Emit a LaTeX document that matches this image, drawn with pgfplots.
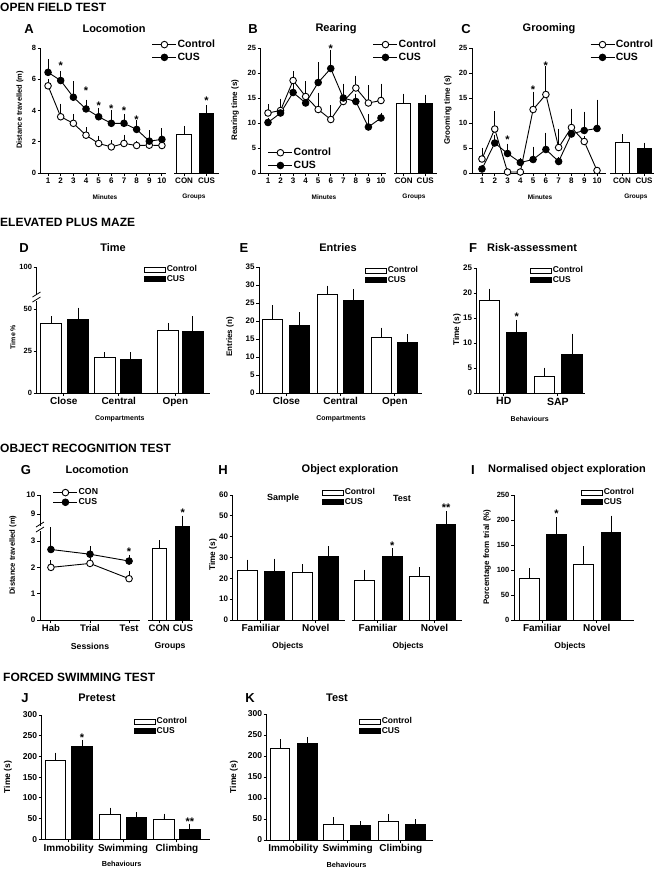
\documentclass[border=0pt]{standalone}
\usepackage{fontspec}
\setmainfont{Liberation Sans}
\usepackage{pgfplots}
\pgfplotsset{compat=1.18}
\newcommand\fs[1]{\fontsize{#1}{#1}\selectfont\bfseries}
\pgfplotsset{
 base/.style={scale only axis, anchor=south west, clip=false, enlargelimits=false, scaled ticks=false,
   axis line style={-, line width=0.9pt, black}, tick style={black, line width=0.9pt},
   every outer x axis line/.append style={-}, every outer y axis line/.append style={-},
   every inner x axis line/.append style={-}, every inner y axis line/.append style={-},
   tick align=outside, major tick length=3pt,
   /pgf/number format/assume math mode=true,
   yticklabel style={font=\fs{7.5}, inner sep=1.5pt},
   xticklabel style={font=\fs{8}, inner sep=1.5pt},
   xlabel style={font=\fs{7}, anchor=center},
   ylabel style={font=\fs{8}, anchor=center},
   legend style={draw=none, fill=none, inner sep=0pt, outer sep=0pt, anchor=north west, row sep=0.5pt, font=\fs{8.5}, nodes={inner sep=0.8pt}},
   legend cell align=left},
 lineleg/.style={legend image code/.code={\draw[mark repeat=2,mark phase=2,##1] plot coordinates {(0pt,0pt) (12pt,0pt) (24pt,0pt)};}},
 barleg/.style={legend image code/.code={\draw[##1] (0pt,-2.6pt) rectangle (21pt,2.6pt);}},
 lineax/.style={axis x line=bottom, axis y line=left, base, lineleg},
 barax/.style={axis x line=bottom, axis y line=left, base, barleg, xmin=0.5},
 insetax/.style={axis x line=bottom, axis y line=none, base},
 bigleg/.style={legend style={font=\fs{10.5}, row sep=2.2pt}},
 errs/.style={/pgfplots/error bars/y dir=plus, /pgfplots/error bars/y explicit, /pgfplots/error bars/error bar style={line width=0.9pt, black, solid}, /pgfplots/error bars/error mark options={line width=0.9pt, black, mark size=3pt}},
 ctrl/.style={black, line width=0.9pt, mark=*, mark size=3.3pt, mark options={fill=white, solid}, errs},
 cus/.style={black, line width=0.9pt, mark=*, mark size=3.3pt, mark options={fill=black, solid}, errs},
 cbar/.style={ybar, bar shift=0pt, fill=white, draw=black, line width=1pt, forget plot, errs},
 kbar/.style={ybar, bar shift=0pt, fill=black, draw=black, line width=1pt, forget plot, errs},
}
\tikzset{star/.style={font=\fs{11}, inner sep=0pt, yshift=-2.3pt},
 hdr/.style={font=\fs{12}, anchor=west, inner sep=0pt},
 plet/.style={font=\fs{13}, inner sep=0pt},
 ptit/.style={font=\fs{11}, inner sep=0pt}}
\begin{document}
\begin{tikzpicture}
\path[use as bounding box] (0pt,0pt) rectangle (654pt,-870pt);
% ---------- headers and titles
\node[hdr] at (0pt,-7pt) {OPEN FIELD TEST};
\node[hdr] at (0pt,-222pt) {ELEVATED PLUS MAZE};
\node[hdr] at (0pt,-448pt) {OBJECT RECOGNITION TEST};
\node[hdr] at (3pt,-677pt) {FORCED SWIMMING TEST};
\node[plet] at (29pt,-29pt) {A}; \node[ptit] at (114pt,-29pt) {Locomotion};
\node[plet] at (253pt,-29pt) {B}; \node[ptit] at (336pt,-29pt) {Rearing};
\node[plet] at (466pt,-29pt) {C}; \node[ptit] at (549pt,-29pt) {Grooming};
\node[plet] at (24pt,-248pt) {D}; \node[ptit] at (113pt,-248pt) {Time};
\node[plet] at (244pt,-248pt) {E}; \node[ptit] at (338pt,-248pt) {Entries};
\node[plet] at (473pt,-248pt) {F}; \node[ptit] at (532pt,-248pt) {Risk-assessment};
\node[plet] at (26pt,-470pt) {G}; \node[ptit] at (97pt,-470pt) {Locomotion};
\node[plet] at (223pt,-470pt) {H}; \node[ptit] at (350pt,-470pt) {Object exploration};
\node[plet] at (473pt,-470pt) {I}; \node[ptit] at (567pt,-470pt) {Normalised object exploration};
\node[plet] at (25pt,-698pt) {J}; \node[ptit] at (97pt,-698pt) {Pretest};
\node[plet] at (250pt,-698pt) {K}; \node[ptit] at (337pt,-698pt) {Test};

% ---------- A
\begin{axis}[lineax, bigleg, at={(40.7pt,-173pt)}, width=125.3pt, height=125pt,
 xmin=0.42, xmax=10.32, ymin=0, ymax=8, xtick={1,...,10}, ytick={0,2,4,6,8},
 xlabel={Minutes}, ylabel={Distance travelled (m)},
 xlabel style={font=\fs{6.5}, at={(axis description cs:0.513,-0.192)}},
 ylabel style={font=\fs{7.5}, at={(axis description cs:-0.165,0.504)}},
 legend style={at={(axis description cs:0.888,1.07)}}]
\addplot[ctrl] coordinates {(1,5.58) +- (0,0.25) (2,3.60) +- (0,0.65) (3,3.18) +- (0,0.42) (4,2.42) +- (0,0.33) (5,1.89) +- (0,0.31) (6,1.67) +- (0,0.23) (7,1.89) +- (0,0.38) (8,1.76) +- (0,0.10) (9,1.78) +- (0,0.22) (10,1.76) +- (0,0.10)};
\addlegendentry{Control}
\addplot[cus] coordinates {(1,6.44) +- (0,0.66) (2,5.92) +- (0,0.43) (3,4.85) +- (0,0.84) (4,4.10) +- (0,0.40) (5,3.60) +- (0,0.37) (6,3.18) +- (0,0.64) (7,3.18) +- (0,0.42) (8,2.79) +- (0,0.43) (9,2.04) +- (0,0.49) (10,2.15) +- (0,0.53)};
\addlegendentry{CUS}
\node[star] at (axis cs:2,7.04) {*};
\node[star] at (axis cs:4,5.43) {*};
\node[star] at (axis cs:5,4.46) {*};
\node[star] at (axis cs:6,4.29) {*};
\node[star] at (axis cs:7,4.14) {*};
\node[star] at (axis cs:8,3.56) {*};
\end{axis}
\begin{axis}[insetax, at={(174pt,-173pt)}, width=45pt, height=125pt, xmin=0.55, xmax=2.55, ymin=0, ymax=8,
 xtick={1,2}, xticklabels={CON,CUS}, xlabel={Groups},
 xlabel style={font=\fs{6.5}, at={(axis description cs:0.444,-0.192)}}]
\addplot[cbar, bar width=0.64] coordinates {(1,2.49) +- (0,0.34)};
\addplot[kbar, bar width=0.64] coordinates {(2,3.78) +- (0,0.36)};
\node[star] at (axis cs:2,4.79) {*};
\end{axis}

% ---------- B
\begin{axis}[lineax, bigleg, at={(260.7pt,-173pt)}, width=125.3pt, height=125pt,
 xmin=0.42, xmax=10.4, ymin=0, ymax=25, xtick={1,...,10}, ytick={0,5,...,25},
 xlabel={Minutes}, ylabel={Rearing time (s)},
 xlabel style={font=\fs{6.5}, at={(axis description cs:0.505,-0.192)}},
 ylabel style={at={(axis description cs:-0.205,0.504)}},
 legend style={at={(axis description cs:0.058,0.205)}}]
\addplot[ctrl] coordinates {(1,12.0) +- (0,1.2) (2,12.5) +- (0,1.8) (3,18.5) +- (0,1.3) (4,15.3) +- (0,2.5) (5,12.7) +- (0,2.8) (6,10.7) +- (0,2.3) (7,14.3) +- (0,3.0) (8,17.0) +- (0,1.9) (9,14.0) +- (0,3.0) (10,14.5) +- (0,2.8)};
\addlegendentry{Control}
\addplot[cus] coordinates {(1,10.1) +- (0,0.4) (2,12.0) +- (0,1.3) (3,16.1) +- (0,1.6) (4,14.0) +- (0,1.8) (5,18.1) +- (0,3.5) (6,20.9) +- (0,3.1) (7,15.0) +- (0,1.7) (8,14.3) +- (0,1.0) (9,9.2) +- (0,2.0) (10,11.0) +- (0,0.5)};
\addlegendentry{CUS}
\node[star] at (axis cs:6,25.3) {*};
\end{axis}
\begin{axis}[insetax, lineleg, bigleg, at={(394pt,-173pt)}, width=43pt, height=125pt, xmin=0.55, xmax=2.55, ymin=0, ymax=25,
 xtick={1,2}, xticklabels={CON,CUS}, xlabel={Groups},
 xlabel style={font=\fs{6.5}, at={(axis description cs:0.465,-0.192)}},
 legend style={at={(axis description cs:-0.488,1.07)}}]
\addlegendimage{black, line width=0.9pt, mark=*, mark size=3.3pt, mark options={fill=white, solid}}
\addlegendentry{Control}
\addlegendimage{black, line width=0.9pt, mark=*, mark size=3.3pt, mark options={fill=black, solid}}
\addlegendentry{CUS}
\addplot[cbar, bar width=0.64] coordinates {(1,14.0) +- (0,1.3)};
\addplot[kbar, bar width=0.64] coordinates {(2,14.0) +- (0,1.1)};
\end{axis}

% ---------- C
\begin{axis}[lineax, bigleg, at={(472pt,-173pt)}, width=133.7pt, height=125pt,
 xmin=0.22, xmax=10.68, ymin=0, ymax=25, xtick={1,...,10}, ytick={0,5,...,25},
 xlabel={Minutes}, ylabel={Grooming time (s)},
 xlabel style={font=\fs{6.5}, at={(axis description cs:0.509,-0.192)}},
 ylabel style={at={(axis description cs:-0.18,0.504)}},
 legend style={at={(axis description cs:0.883,1.07)}}]
\addplot[ctrl] coordinates {(1,2.8) +- (0,1.7) (2,8.8) +- (0,3.0) (3,0.2) +- (0,0) (4,0.2) +- (0,0) (5,12.7) +- (0,3.0) (6,15.7) +- (0,5.1) (7,5.1) +- (0,3.2) (8,9.1) +- (0,3.2) (9,6.3) +- (0,0.5) (10,0.5) +- (0,0)};
\addlegendentry{Control}
\addplot[cus] coordinates {(1,0.8) +- (0,0.3) (2,6.0) +- (0,1.0) (3,3.9) +- (0,1.4) (4,2.1) +- (0,0.3) (5,2.7) +- (0,2.0) (6,4.7) +- (0,2.8) (7,2.3) +- (0,0.3) (8,7.8) +- (0,2.7) (9,8.5) +- (0,3.2) (10,8.9) +- (0,5.2)};
\addlegendentry{CUS}
\node[star] at (axis cs:3,7.1) {*};
\node[star] at (axis cs:5,17.2) {*};
\node[star] at (axis cs:6,22.0) {*};
\end{axis}
\begin{axis}[insetax, at={(610pt,-173pt)}, width=44pt, height=125pt, xmin=0.45, xmax=2.45, ymin=0, ymax=25,
 xtick={1,2}, xticklabels={CON,CUS}, xlabel={Groups},
 xlabel style={font=\fs{6.5}, at={(axis description cs:0.59,-0.192)}}]
\addplot[cbar, bar width=0.64] coordinates {(1,6.1) +- (0,1.1)};
\addplot[kbar, bar width=0.64] coordinates {(2,4.9) +- (0,0.6)};
\end{axis}

% ---------- D
\begin{axis}[barax, at={(36.7pt,-393pt)}, width=173.3pt, height=126pt, xmax=3.5, ymin=0, ymax=75,
 ytick={0,25,50,75}, yticklabels={0,25,50,100},
 xtick={0.97,1.92,2.9}, xticklabels={Close,Central,Open}, xticklabel style={font=\fs{10}},
 xlabel={Compartments}, ylabel={Time \%},
 xlabel style={at={(axis description cs:0.48,-0.206)}},
 ylabel style={font=\fs{7}, at={(axis description cs:-0.137,0.444)}},
 legend style={at={(axis description cs:0.619,1.016)}}]
\addlegendimage{fill=white, draw=black, line width=1pt}\addlegendentry{Control}
\addlegendimage{fill=black, draw=black, line width=1pt}\addlegendentry{CUS}
\addplot[cbar, bar width=0.363] coordinates {(0.75,41.5) +- (0,2.5) (1.68,21.2) +- (0,1.2) (2.78,37.1) +- (0,2.8)};
\addplot[kbar, bar width=0.363] coordinates {(1.22,43.5) +- (0,5.5) (2.13,20.2) +- (0,2.2) (3.2,36.5) +- (0,7.3)};
\end{axis}
\fill[white] (33pt,-295pt) rectangle (40.5pt,-300.5pt);
\draw[line width=0.8pt] (32.5pt,-297pt) -- (40.5pt,-292pt);
\draw[line width=0.8pt] (32.5pt,-302pt) -- (40.5pt,-297pt);

% ---------- E
\begin{axis}[barax, at={(259.3pt,-393pt)}, width=162.7pt, height=126pt, xmax=3.5, ymin=0, ymax=35,
 ytick={0,5,...,35}, yticklabel style={font=\fs{8}},
 xtick={1,2,3}, xticklabels={Close,Central,Open}, xticklabel style={font=\fs{10}},
 xlabel={Compartments}, ylabel={Entries (n)},
 xlabel style={at={(axis description cs:0.502,-0.206)}},
 ylabel style={at={(axis description cs:-0.18,0.444)}},
 legend style={at={(axis description cs:0.65,1.008)}}]
\addlegendimage{fill=white, draw=black, line width=1pt}\addlegendentry{Control}
\addlegendimage{fill=black, draw=black, line width=1pt}\addlegendentry{CUS}
\addplot[cbar, bar width=0.37] coordinates {(0.75,20.3) +- (0,3.2) (1.75,27.5) +- (0,1.5) (2.75,15.5) +- (0,1.8)};
\addplot[kbar, bar width=0.37] coordinates {(1.24,18.8) +- (0,2.8) (2.24,25.7) +- (0,2.3) (3.24,14.0) +- (0,1.5)};
\end{axis}

% ---------- F
\begin{axis}[barax, at={(476.7pt,-393pt)}, width=108.3pt, height=125pt, xmax=2.5, ymin=0, ymax=25,
 ytick={0,5,...,25}, yticklabel style={font=\fs{8}},
 xtick={1,2}, xticklabels={HD,SAP}, xticklabel style={font=\fs{10.5}},
 xlabel={Behaviours}, ylabel={Time (s)},
 xlabel style={at={(axis description cs:0.49,-0.208)}},
 ylabel style={font=\fs{8.3}, at={(axis description cs:-0.182,0.504)}},
 legend style={at={(axis description cs:0.492,1.016)}}]
\addlegendimage{fill=white, draw=black, line width=1pt}\addlegendentry{Control}
\addlegendimage{fill=black, draw=black, line width=1pt}\addlegendentry{CUS}
\addplot[cbar, bar width=0.37] coordinates {(0.74,18.5) +- (0,1.8) (1.75,3.3) +- (0,1.2)};
\addplot[kbar, bar width=0.37] coordinates {(1.24,12.1) +- (0,2.0) (2.26,7.8) +- (0,3.5)};
\node[star] at (axis cs:1.24,15.8) {*};
\end{axis}

% ---------- G
\begin{axis}[lineax, at={(40pt,-620pt)}, width=100pt, height=125pt,
 xmin=0.72, xmax=3.28, ymin=0, ymax=4.75,
 ytick={0,1,2,3,4.03,4.75}, yticklabels={0,1,2,3,9,10}, yticklabel style={font=\fs{8}},
 xtick={1,2,3}, xticklabels={Hab,Trial,Test}, xticklabel style={font=\fs{9.5}},
 xlabel={Sessions}, ylabel={Distance travelled (m)},
 xlabel style={font=\fs{8.7}, at={(axis description cs:0.5,-0.208)}},
 ylabel style={font=\fs{7.6}, at={(axis description cs:-0.27,0.52)}},
 legend style={at={(axis description cs:0.13,1.056)}, font=\fs{8.7}}]
\addplot[ctrl] coordinates {(1,2.0) +- (0,0.15) (2,2.15) +- (0,0.09) (3,1.57) +- (0,0.16)};
\addlegendentry{CON}
\addplot[cus] coordinates {(1,2.68) +- (0,0.74) (2,2.50) +- (0,0.18) (3,2.24) +- (0,0.10)};
\addlegendentry{CUS}
\node[star] at (axis cs:3,2.68) {*};
\end{axis}
\fill[white] (36.5pt,-525.5pt) rectangle (43.5pt,-531pt);
\draw[line width=0.8pt] (36pt,-527pt) -- (44pt,-522pt);
\draw[line width=0.8pt] (36pt,-532pt) -- (44pt,-527pt);
\begin{axis}[insetax, at={(148pt,-620pt)}, width=45pt, height=125pt, xmin=0.5, xmax=2.5, ymin=0, ymax=4.75,
 xtick={1,2.05}, xticklabels={CON,CUS}, xticklabel style={font=\fs{9.5}}, xlabel={Groups},
 xlabel style={font=\fs{8.7}, at={(axis description cs:0.49,-0.208)}}]
\addplot[cbar, bar width=0.62] coordinates {(1,2.72) +- (0,0.19)};
\addplot[kbar, bar width=0.62] coordinates {(2.05,3.54) +- (0,0.31)};
\node[star] at (axis cs:2.05,4.15) {*};
\end{axis}

% ---------- H
\begin{axis}[barax, at={(232.7pt,-620pt)}, width=112.3pt, height=125pt, xmax=2.5, ymin=0, ymax=60,
 ytick={0,10,...,60}, yticklabel style={font=\fs{8}},
 xtick={1,1.98}, xticklabels={Familiar,Novel}, xticklabel style={font=\fs{10}},
 xlabel={Objects}, ylabel={Time (s)},
 xlabel style={font=\fs{8.5}, at={(axis description cs:0.49,-0.208)}},
 ylabel style={font=\fs{8.3}, at={(axis description cs:-0.175,0.52)}},
 legend style={at={(axis description cs:0.795,1.056)}}]
\addlegendimage{fill=white, draw=black, line width=1pt}\addlegendentry{Control}
\addlegendimage{fill=black, draw=black, line width=1pt}\addlegendentry{CUS}
\addplot[cbar, bar width=0.357] coordinates {(0.77,24.0) +- (0,3.5) (1.74,23.0) +- (0,2.3)};
\addplot[kbar, bar width=0.357] coordinates {(1.25,23.2) +- (0,4.8) (2.21,30.4) +- (0,3.5)};
\node[font=\fs{9}] at (axis cs:1.4,58.5) {Sample};
\end{axis}
\begin{axis}[insetax, at={(352pt,-620pt)}, width=110pt, height=125pt, xmin=0.5, xmax=2.5, ymin=0, ymax=60,
 xtick={0.97,2.0}, xticklabels={Familiar,Novel}, xticklabel style={font=\fs{10}},
 xlabel={Objects},
 xlabel style={font=\fs{8.5}, at={(axis description cs:0.51,-0.208)}}]
\addplot[cbar, bar width=0.36] coordinates {(0.72,19.2) +- (0,3.4) (1.72,20.8) +- (0,3.0)};
\addplot[kbar, bar width=0.36] coordinates {(1.23,30.4) +- (0,2.7) (2.21,45.9) +- (0,4.8)};
\node[star] at (axis cs:1.23,36.8) {*};
\node[star] at (axis cs:2.21,55.2) {**};
\node[font=\fs{9}] at (axis cs:1.41,58.5) {Test};
\end{axis}

% ---------- I
\begin{axis}[barax, at={(514pt,-620pt)}, width=120pt, height=125pt, xmax=2.5, ymin=0, ymax=250,
 ytick={0,50,...,250},
 xtick={0.97,1.88}, xticklabels={Familiar,Novel}, xticklabel style={font=\fs{10}},
 xlabel={Objects}, ylabel={Porcentage from trial (\%)},
 xlabel style={font=\fs{8.5}, at={(axis description cs:0.467,-0.208)}},
 ylabel style={font=\fs{8}, at={(axis description cs:-0.225,0.504)}},
 legend style={at={(axis description cs:0.558,1.056)}}]
\addlegendimage{fill=white, draw=black, line width=1pt}\addlegendentry{Control}
\addlegendimage{fill=black, draw=black, line width=1pt}\addlegendentry{CUS}
\addplot[cbar, bar width=0.325] coordinates {(0.76,82.7) +- (0,14.6) (1.66,112) +- (0,30)};
\addplot[kbar, bar width=0.325] coordinates {(1.21,170.7) +- (0,28.6) (2.12,176) +- (0,27)};
\node[star] at (axis cs:1.21,216.6) {*};
\end{axis}

% ---------- J
\begin{axis}[barax, at={(41.7pt,-839.3pt)}, width=168.3pt, height=124.3pt, xmax=3.5, ymin=0, ymax=300,
 ytick={0,50,...,300}, yticklabel style={font=\fs{8.5}},
 xtick={0.98,1.95,2.91}, xticklabels={Immobility,Swimming,Climbing}, xticklabel style={font=\fs{10}},
 xlabel={Behaviours}, ylabel={Time (s)},
 xlabel style={font=\fs{7.3}, at={(axis description cs:0.475,-0.2)}},
 ylabel style={font=\fs{8.5}, at={(axis description cs:-0.2,0.5)}},
 legend style={at={(axis description cs:0.548,0.984)}}]
\addlegendimage{fill=white, draw=black, line width=1pt}\addlegendentry{Control}
\addlegendimage{fill=black, draw=black, line width=1pt}\addlegendentry{CUS}
\addplot[cbar, bar width=0.365] coordinates {(0.75,190.6) +- (0,11.4) (1.72,61) +- (0,8) (2.68,48) +- (0,7)};
\addplot[kbar, bar width=0.365] coordinates {(1.22,223.6) +- (0,9.4) (2.19,52) +- (0,6) (3.14,24) +- (0,6.5)};
\node[star] at (axis cs:1.22,251.8) {*};
\node[star] at (axis cs:3.14,48.3) {**};
\end{axis}

% ---------- K
\begin{axis}[barax, at={(266.7pt,-840pt)}, width=166.3pt, height=126pt, xmax=3.5, ymin=0, ymax=300,
 ytick={0,50,...,300}, yticklabel style={font=\fs{8.5}},
 xtick={0.98,1.96,2.92}, xticklabels={Immobility,Swimming,Climbing}, xticklabel style={font=\fs{10}},
 xlabel={Behaviours}, ylabel={Time (s)},
 xlabel style={font=\fs{7.3}, at={(axis description cs:0.48,-0.2)}},
 ylabel style={font=\fs{8.5}, at={(axis description cs:-0.197,0.5)}},
 legend style={at={(axis description cs:0.555,0.976)}}]
\addlegendimage{fill=white, draw=black, line width=1pt}\addlegendentry{Control}
\addlegendimage{fill=black, draw=black, line width=1pt}\addlegendentry{CUS}
\addplot[cbar, bar width=0.36] coordinates {(0.74,218) +- (0,15) (1.71,37.4) +- (0,9.6) (2.69,45) +- (0,10)};
\addplot[kbar, bar width=0.36] coordinates {(1.23,230) +- (0,8.7) (2.2,34) +- (0,4) (3.18,36.6) +- (0,5.4)};
\end{axis}
\end{tikzpicture}
\end{document}
